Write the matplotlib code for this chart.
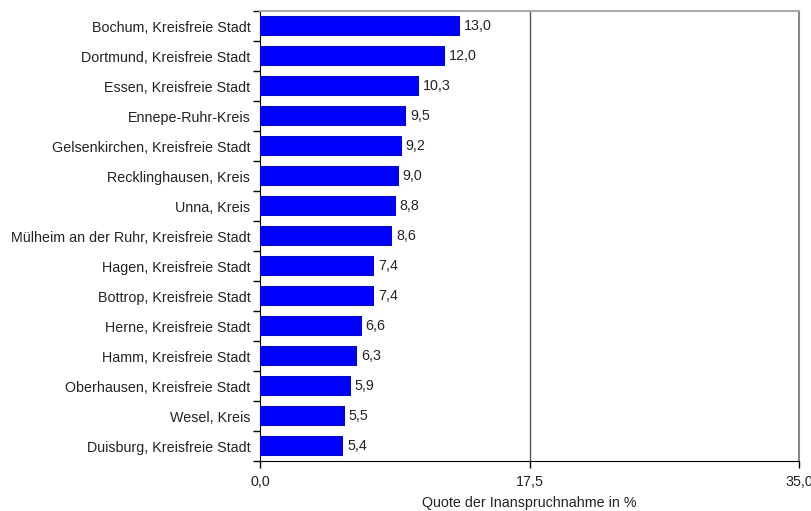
import matplotlib
matplotlib.use('Agg')
import matplotlib.pyplot as plt

plt.rcParams['font.family'] = ['Liberation Sans', 'DejaVu Sans']

regions = [
    'Bochum, Kreisfreie Stadt',
    'Dortmund, Kreisfreie Stadt',
    'Essen, Kreisfreie Stadt',
    'Ennepe-Ruhr-Kreis',
    'Gelsenkirchen, Kreisfreie Stadt',
    'Recklinghausen, Kreis',
    'Unna, Kreis',
    'Mülheim an der Ruhr, Kreisfreie Stadt',
    'Hagen, Kreisfreie Stadt',
    'Bottrop, Kreisfreie Stadt',
    'Herne, Kreisfreie Stadt',
    'Hamm, Kreisfreie Stadt',
    'Oberhausen, Kreisfreie Stadt',
    'Wesel, Kreis',
    'Duisburg, Kreisfreie Stadt',
]
quote = [13.0, 12.0, 10.3, 9.5, 9.2, 9.0, 8.8, 8.6, 7.4, 7.4, 6.6, 6.3, 5.9, 5.5, 5.4]
xticks = [0.0, 17.5, 35.0]


def fmt(v):
    return f'{v:.1f}'.replace('.', ',')


FS = 10.3

fig = plt.figure(figsize=(8.12, 5.11), dpi=100)
ax = fig.add_axes([260 / 812, 50 / 511, 539 / 812, 450 / 511])

n = len(regions)
ypos = list(range(n))[::-1]
ax.barh(ypos, quote, height=0.67, color='#0000ff', zorder=3)
for y, v in zip(ypos, quote):
    ax.text(v + 0.25, y, fmt(v), va='center', ha='left', fontsize=FS, color='#222222')

ax.set_xlim(0, 35)
ax.set_ylim(-0.5, n - 0.5)
ax.set_xticks(xticks)
ax.set_xticklabels([fmt(t) for t in xticks], fontsize=FS, color='#222222')
ax.set_yticks(ypos)
ax.set_yticklabels(regions, fontsize=FS, color='#222222')
ax.tick_params(axis='y', length=0, pad=7)
# ticks between categories on the left spine
ax.set_yticks([i - 0.5 for i in range(n + 1)], minor=True)
ax.tick_params(axis='y', which='minor', length=5, width=1, direction='out')
ax.tick_params(axis='x', length=5, width=1, direction='out', pad=5)

ax.axvline(17.5, color='#555555', lw=1, zorder=1)
ax.spines['left'].set_color('black')
ax.spines['bottom'].set_color('black')
ax.spines['top'].set_color('#aaaaaa')
ax.spines['top'].set_linewidth(1.5)
ax.spines['right'].set_color('#888888')
ax.spines['right'].set_linewidth(1.5)

ax.set_xlabel('Quote der Inanspruchnahme in %', fontsize=FS, color='#222222', labelpad=5)

plt.savefig('out.png', dpi=100)
plt.close()
